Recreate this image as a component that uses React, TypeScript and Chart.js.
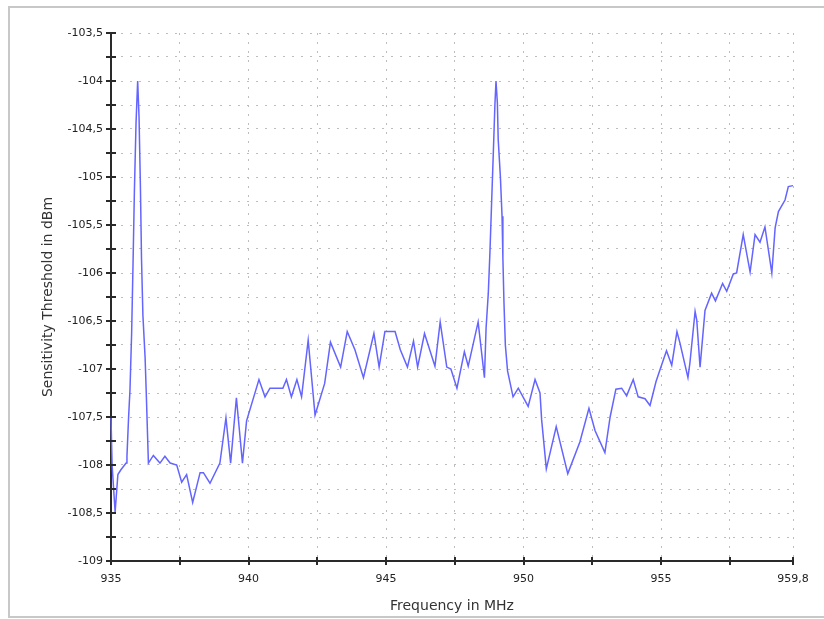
import React, { useEffect, useRef } from 'react';
import { Chart, registerables } from 'chart.js';

Chart.register(...registerables);

const freqMHz = [
  935.0, 935.04, 935.15, 935.25, 935.36, 935.55, 935.58, 935.64, 935.69, 935.75,
  935.8, 935.85, 935.91, 935.97, 936.02, 936.07, 936.11, 936.16, 936.24, 936.29,
  936.36, 936.54, 936.78, 936.96, 937.15, 937.39, 937.57, 937.75, 937.97, 938.24,
  938.36, 938.6, 938.96, 939.18, 939.35, 939.56, 939.78, 939.93, 940.38, 940.6,
  940.78, 941.25, 941.38, 941.56, 941.76, 941.93, 942.17, 942.42, 942.77, 942.98,
  943.35, 943.59, 943.87, 944.18, 944.56, 944.75, 944.96, 945.33, 945.52, 945.78,
  946.0, 946.15, 946.4, 946.78, 946.97, 947.21, 947.36, 947.58, 947.85, 947.99,
  948.35, 948.58, 948.64, 948.72, 948.78, 948.84, 948.9, 948.96, 949.0, 949.05,
  949.08, 949.16, 949.22, 949.25, 949.29, 949.34, 949.42, 949.62, 949.81, 950.17,
  950.42, 950.6, 950.66, 950.83, 951.19, 951.61, 952.05, 952.38, 952.6, 952.96,
  953.15, 953.36, 953.57, 953.75, 953.99, 954.17, 954.42, 954.6, 954.82, 954.96,
  955.2, 955.39, 955.58, 955.69, 955.98, 956.05, 956.24, 956.3, 956.42, 956.6,
  956.84, 956.98, 957.24, 957.39, 957.63, 957.75, 957.99, 958.24, 958.42, 958.6,
  958.78, 959.03, 959.15, 959.27, 959.51, 959.63, 959.8,
];

const thresholdDbm = [
  -107.5, -108.0, -108.49, -108.1, -108.05, -107.98, -107.91, -107.5, -107.22, -106.63,
  -105.92, -105.16, -104.44, -104.0, -104.38, -105.11, -105.86, -106.44, -106.88, -107.32,
  -107.98, -107.9, -107.98, -107.91, -107.98, -108.0, -108.18, -108.1, -108.39, -108.08,
  -108.08, -108.19, -107.98, -107.51, -107.98, -107.3, -107.98, -107.54, -107.11, -107.29,
  -107.2, -107.2, -107.11, -107.29, -107.11, -107.29, -106.7, -107.48, -107.15, -106.72,
  -106.98, -106.61, -106.8, -107.09, -106.63, -106.98, -106.61, -106.61, -106.8, -106.98,
  -106.71, -106.98, -106.63, -106.97, -106.51, -106.98, -107.0, -107.2, -106.82, -106.97,
  -106.51, -107.09, -106.57, -106.21, -105.78, -105.27, -104.77, -104.25, -104.0, -104.23,
  -104.61, -105.0, -105.41, -105.84, -106.31, -106.75, -107.02, -107.29, -107.2, -107.39,
  -107.11, -107.25, -107.53, -108.04, -107.6, -108.09, -107.76, -107.41, -107.64, -107.87,
  -107.5, -107.21, -107.2, -107.28, -107.11, -107.29, -107.31, -107.38, -107.13, -107.01,
  -106.81, -106.96, -106.61, -106.73, -107.09, -106.94, -106.4, -106.49, -106.98, -106.39,
  -106.21, -106.29, -106.11, -106.19, -106.01, -106.0, -105.6, -105.99, -105.6, -105.68,
  -105.52, -106.0, -105.53, -105.36, -105.24, -105.1, -105.09,
];

const xTickValues = [935, 937.5, 940, 942.5, 945, 947.5, 950, 952.5, 955, 957.5, 959.8];
const xTickLabels = ['935', '', '940', '', '945', '', '950', '', '955', '', '959,8'];

const yTickValues = [
  -109, -108.75, -108.5, -108.25, -108, -107.75, -107.5, -107.25, -107, -106.75, -106.5,
  -106.25, -106, -105.75, -105.5, -105.25, -105, -104.75, -104.5, -104.25, -104, -103.75, -103.5,
];
const yTickLabels = [
  '-109', '', '-108,5', '', '-108', '', '-107,5', '', '-107', '', '-106,5',
  '', '-106', '', '-105,5', '', '-105', '', '-104,5', '', '-104', '', '-103,5',
];

const xTitle = 'Frequency in MHz';
const yTitle = 'Sensitivity Threshold in dBm';

const crossTicks = {
  id: 'crossTicks',
  afterDraw(chart: any) {
    const { ctx } = chart;
    const xs = chart.scales.x;
    const ys = chart.scales.y;
    ctx.save();
    ctx.strokeStyle = '#2a2a2a';
    ctx.lineWidth = 2;
    ctx.beginPath();
    xs.ticks.forEach((t: any) => {
      const px = Math.round(xs.getPixelForValue(t.value));
      ctx.moveTo(px, xs.top - 4);
      ctx.lineTo(px, xs.top + 4);
    });
    ys.ticks.forEach((t: any) => {
      const py = Math.round(ys.getPixelForValue(t.value));
      ctx.moveTo(ys.right - 5, py);
      ctx.lineTo(ys.right + 5, py);
    });
    ctx.stroke();
    ctx.restore();
  },
};

export default function App() {
  const canvasRef = useRef<HTMLCanvasElement | null>(null);

  useEffect(() => {
    if (!canvasRef.current) return;
    const n = Math.min(freqMHz.length, thresholdDbm.length);
    const points = [];
    for (let i = 0; i < n; i++) points.push({ x: freqMHz[i], y: thresholdDbm[i] });

    const tickFont = { family: 'DejaVu Sans', size: 11 };
    const titleFont = { family: 'DejaVu Sans', size: 14 };

    const chart = new Chart(canvasRef.current, {
      type: 'line',
      data: {
        datasets: [
          {
            data: points,
            borderColor: 'rgb(100,100,255)',
            borderWidth: 1.5,
            pointRadius: 0,
            tension: 0,
            fill: false,
            clip: 4,
          } as any,
        ],
      },
      options: {
        animation: false,
        responsive: false,
        devicePixelRatio: 1,
        layout: { padding: { top: 33, right: 31, left: 0, bottom: 0 } },
        plugins: {
          legend: { display: false },
          tooltip: { enabled: false },
        },
        scales: {
          x: {
            type: 'linear',
            position: 'bottom',
            min: 935,
            max: 959.8,
            afterBuildTicks: (scale: any) => {
              scale.ticks = xTickValues.map((v) => ({ value: v }));
            },
            afterFit: (scale: any) => {
              scale.height = 58;
            },
            grid: {
              color: '#bdbdbd',
              lineWidth: 1,
              drawTicks: false,
              drawOnChartArea: true,
            },
            border: { display: true, color: '#2a2a2a', width: 2, dash: [2, 7] },
            ticks: {
              autoSkip: false,
              maxRotation: 0,
              minRotation: 0,
              padding: 12,
              color: '#222',
              font: tickFont,
              callback: (_v: any, i: number) => xTickLabels[i],
            },
            title: {
              display: true,
              text: xTitle,
              color: '#333',
              font: titleFont,
              padding: { top: 0, bottom: 4 },
            },
          },
          y: {
            type: 'linear',
            position: 'left',
            min: -109,
            max: -103.5,
            afterBuildTicks: (scale: any) => {
              scale.ticks = yTickValues.map((v) => ({ value: v }));
            },
            afterFit: (scale: any) => {
              scale.width = 111;
            },
            grid: {
              color: '#bdbdbd',
              lineWidth: 1,
              drawTicks: false,
              drawOnChartArea: true,
            },
            border: { display: true, color: '#2a2a2a', width: 2, dash: [2, 7] },
            ticks: {
              autoSkip: false,
              padding: 8,
              color: '#222',
              font: tickFont,
              callback: (_v: any, i: number) => yTickLabels[i],
            },
            title: {
              display: true,
              text: yTitle,
              color: '#333',
              font: titleFont,
              padding: { top: 40, bottom: 0 },
            },
          },
        },
      } as any,
      plugins: [crossTicks],
    });

    return () => chart.destroy();
  }, []);

  return (
    <div
      style={{
        position: 'absolute',
        left: 0,
        top: 0,
        width: 824,
        height: 619,
        overflow: 'hidden',
        background: '#fff',
      }}
    >
      <div
        style={{
          position: 'absolute',
          left: 8,
          top: 6,
          width: 830,
          height: 612,
          boxSizing: 'border-box',
          border: '2px solid #c8c8c8',
        }}
      />
      <canvas
        ref={canvasRef}
        width={824}
        height={619}
        style={{ position: 'absolute', left: 0, top: 0, width: 824, height: 619 }}
      />
    </div>
  );
}
